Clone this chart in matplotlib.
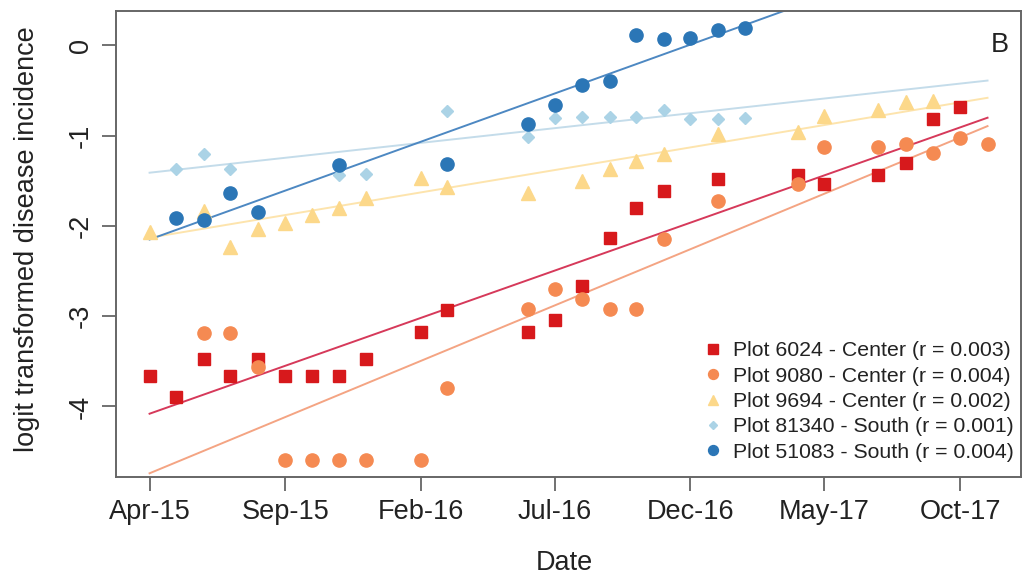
import matplotlib
matplotlib.use('Agg')
import matplotlib.pyplot as plt
import numpy as np
import pandas as pd

plt.rcParams['font.family'] = ['Liberation Sans', 'DejaVu Sans']

# sampling dates and logit transformed incidence for each plot
dates_6024 = ['2015-04-01', '2015-05-01', '2015-06-01', '2015-07-01', '2015-08-01',
              '2015-09-01', '2015-10-01', '2015-11-01', '2015-12-01', '2016-02-01',
              '2016-03-01', '2016-06-01', '2016-07-01', '2016-08-01', '2016-09-01',
              '2016-10-01', '2016-11-01', '2017-01-01', '2017-04-01', '2017-05-01',
              '2017-07-01', '2017-08-01', '2017-09-01', '2017-10-01']
logit_6024 = [-3.66, -3.89, -3.47, -3.66, -3.47, -3.66, -3.66, -3.66, -3.47, -3.17,
              -2.93, -3.17, -3.04, -2.66, -2.13, -1.80, -1.61, -1.48, -1.43, -1.54,
              -1.43, -1.30, -0.81, -0.68]

dates_9080 = ['2015-06-01', '2015-07-01', '2015-08-01', '2015-09-01', '2015-10-01',
              '2015-11-01', '2015-12-01', '2016-02-01', '2016-03-01', '2016-06-01',
              '2016-07-01', '2016-08-01', '2016-09-01', '2016-10-01', '2016-11-01',
              '2017-01-01', '2017-04-01', '2017-05-01', '2017-07-01', '2017-08-01',
              '2017-09-01', '2017-10-01', '2017-11-01']
logit_9080 = [-3.19, -3.19, -3.56, -4.59, -4.59, -4.59, -4.59, -4.59, -3.80, -2.92,
              -2.70, -2.81, -2.92, -2.92, -2.14, -1.72, -1.54, -1.12, -1.12, -1.09,
              -1.19, -1.03, -1.09]

dates_9694 = ['2015-04-01', '2015-06-01', '2015-07-01', '2015-08-01', '2015-09-01',
              '2015-10-01', '2015-11-01', '2015-12-01', '2016-02-01', '2016-03-01',
              '2016-06-01', '2016-08-01', '2016-09-01', '2016-10-01', '2016-11-01',
              '2017-01-01', '2017-04-01', '2017-05-01', '2017-07-01', '2017-08-01',
              '2017-09-01']
logit_9694 = [-2.07, -1.83, -2.23, -2.03, -1.97, -1.88, -1.80, -1.69, -1.47, -1.57,
              -1.64, -1.50, -1.37, -1.28, -1.20, -0.98, -0.96, -0.78, -0.71, -0.63,
              -0.62]

dates_81340 = ['2015-05-01', '2015-06-01', '2015-07-01', '2015-11-01', '2015-12-01',
               '2016-03-01', '2016-06-01', '2016-07-01', '2016-08-01', '2016-09-01',
               '2016-10-01', '2016-11-01', '2016-12-01', '2017-01-01', '2017-02-01']
logit_81340 = [-1.37, -1.20, -1.37, -1.43, -1.42, -0.73, -1.01, -0.80, -0.79, -0.79,
               -0.79, -0.71, -0.81, -0.81, -0.80]

dates_51083 = ['2015-05-01', '2015-06-01', '2015-07-01', '2015-08-01', '2015-11-01',
               '2016-03-01', '2016-06-01', '2016-07-01', '2016-08-01', '2016-09-01',
               '2016-10-01', '2016-11-01', '2016-12-01', '2017-01-01', '2017-02-01']
logit_51083 = [-1.91, -1.93, -1.63, -1.84, -1.32, -1.31, -0.87, -0.66, -0.44, -0.39,
               0.12, 0.07, 0.08, 0.17, 0.19]

labels = ['Plot 6024 - Center (r = 0.003)', 'Plot 9080 - Center (r = 0.004)',
          'Plot 9694 - Center (r = 0.002)', 'Plot 81340 - South (r = 0.001)',
          'Plot 51083 - South (r = 0.004)']

# linear trend per plot: value at first sampling date and daily rate
trend_start = [-4.08, -4.74, -2.13, -1.41, -2.15]
trend_rate = [0.00347, 0.00407, 0.00164, 0.00108, 0.00354]

series = [(dates_6024, logit_6024), (dates_9080, logit_9080),
          (dates_9694, logit_9694), (dates_81340, logit_81340),
          (dates_51083, logit_51083)]
pt_colors = ['#d7191c', '#f58a52', '#fcd88a', '#abd3e6', '#2b76b6']
line_colors = ['#d6395a', '#f4a483', '#fde4ad', '#c4dcea', '#4d88c2']
markers = ['s', 'o', '^', 'D', 'o']
sizes = [9, 9.5, 10, 6, 9.5]

fig = plt.figure(figsize=(10.27, 5.77), dpi=100)
ax = fig.add_axes([0.113, 0.1733, 0.8812, 0.8076])

all_dates = pd.to_datetime(sum([s[0] for s in series], []))
t0, t1 = all_dates.min(), all_dates.max()

for (d, v), pc, lc, m, ms, lab, b, r in zip(series, pt_colors, line_colors,
                                             markers, sizes, labels,
                                             trend_start, trend_rate):
    ax.plot(pd.to_datetime(d), v, linestyle='none', marker=m, ms=ms,
            color=pc, mec=pc, label=lab, zorder=3)
    days = np.array([0, (t1 - t0).days])
    ax.plot([t0, t1], b + r * days, color=lc, lw=1.4, zorder=2)

# R style 4% padding on both axes
span = (t1 - t0) * 0.04
ax.set_xlim(t0 - span, t1 + span)
ymin = min(min(s[1]) for s in series)
ymax = max(max(s[1]) for s in series)
pad = (ymax - ymin) * 0.04
ax.set_ylim(ymin - pad, ymax + pad)

tick_dates = pd.to_datetime(['2015-04-01', '2015-09-01', '2016-02-01', '2016-07-01',
                             '2016-12-01', '2017-05-01', '2017-10-01'])
tick_labels = ['Apr-15', 'Sep-15', 'Feb-16', 'Jul-16', 'Dec-16', 'May-17', 'Oct-17']
ax.set_xticks(tick_dates)
ax.set_xticklabels(tick_labels)
ax.set_yticks([0, -1, -2, -3, -4])
ax.set_yticklabels(['0', '-1', '-2', '-3', '-4'], rotation=90, va='center')

for sp in ax.spines.values():
    sp.set_color('#666666')
    sp.set_linewidth(1.4)
ax.tick_params(axis='both', length=10, width=1.3, color='#666666',
               labelsize=19.5, labelcolor='#222222')
ax.tick_params(axis='x', pad=6)
ax.tick_params(axis='y', pad=6)

ax.set_xlabel('Date', fontsize=19.5, color='#222222', va='center')
ax.xaxis.set_label_coords(0.495, -0.185)
ax.set_ylabel('logit transformed disease incidence', fontsize=19.5,
              color='#222222', va='center')
ax.yaxis.set_label_coords(-0.098, 0.51)

ax.text(0.977, 0.927, 'B', transform=ax.transAxes, fontsize=19.5,
        ha='center', va='center', color='#222222')

ax.legend(loc='lower right', bbox_to_anchor=(1.011, -0.004), frameon=False,
          fontsize=15.3, markerscale=0.75, handlelength=1.0, handletextpad=0.45,
          labelspacing=0.3, borderaxespad=0.4, labelcolor='#222222')

fig.savefig('out.png', dpi=100)
